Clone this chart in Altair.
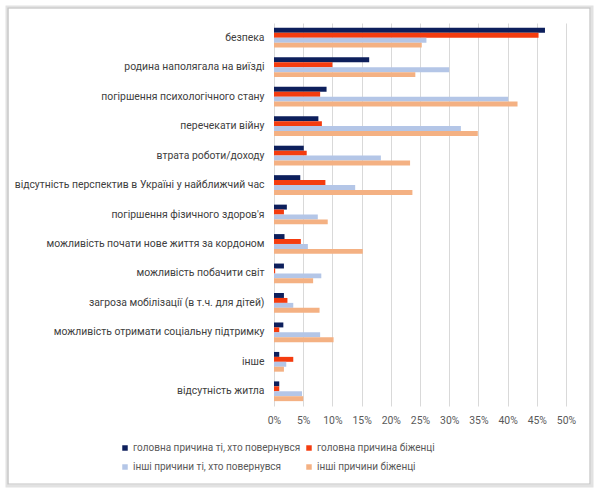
import altair as alt
import pandas as pd

categories = [
    "безпека",
    "родина наполягала на виїзді",
    "погіршення психологічного стану",
    "перечекати війну",
    "втрата роботи/доходу",
    "відсутність перспектив в Україні у найближчий час",
    "погіршення фізичного здоров'я",
    "можливість почати нове життя за кордоном",
    "можливість побачити світ",
    "загроза мобілізації (в т.ч. для дітей)",
    "можливість отримати соціальну підтримку",
    "інше",
    "відсутність житла",
]
series = [
    "головна причина ті, хто повернувся",
    "головна причина біженці",
    "інші причини ті, хто повернувся",
    "інші причини біженці",
]
main_returned = [46.4, 16.3, 9.0, 7.6, 5.1, 4.5, 2.2, 1.8, 1.7, 1.7, 1.6, 0.9, 0.9]
main_refugees = [45.3, 10.0, 7.9, 8.2, 5.6, 8.8, 1.7, 4.6, 0.2, 2.3, 0.9, 3.3, 0.9]
other_returned = [26.1, 30.0, 40.1, 32.0, 18.3, 13.9, 7.5, 5.8, 8.1, 3.3, 7.9, 2.1, 4.8]
other_refugees = [25.3, 24.2, 41.7, 34.9, 23.3, 23.7, 9.2, 15.2, 6.7, 7.8, 10.2, 1.7, 5.0]
colors = ["#0d1f5c", "#f43c0f", "#b4c6e7", "#f4b183"]
x_ticks = [0, 0.05, 0.10, 0.15, 0.20, 0.25, 0.30, 0.35, 0.40, 0.45, 0.50]

rows = []
for s, vals in zip(series, [main_returned, main_refugees, other_returned, other_refugees]):
    for c, v in zip(categories, vals):
        rows.append({"category": c, "series": s, "value": v / 100})
df = pd.DataFrame(rows)

FONT = "Roboto"
legend_order = [series[0], series[2], series[1], series[3]]

bars = alt.Chart(df).mark_bar().encode(
    y=alt.Y("category:N", sort=categories, title=None,
            scale=alt.Scale(paddingInner=0.33, paddingOuter=0.165),
            axis=alt.Axis(labelLimit=400, ticks=False, domain=False, labelPadding=10,
                          labelFontSize=10.4, labelColor="#404040", labelFont=FONT)),
    yOffset=alt.YOffset("series:N", sort=series, scale=alt.Scale(paddingInner=0, paddingOuter=0)),
    x=alt.X("value:Q", title=None,
            scale=alt.Scale(domain=[0, 0.5], nice=False),
            axis=alt.Axis(values=x_ticks, format=".0%", ticks=False, domain=False,
                          labelFlush=False, labelOverlap=False,
                          gridColor="#d9d9d9", gridWidth=1, labelPadding=9,
                          labelFontSize=10.4, labelColor="#595959", labelFont=FONT)),
    color=alt.Color("series:N", sort=series,
                    scale=alt.Scale(domain=series, range=colors),
                    legend=alt.Legend(title=None, orient="none", legendX=-154, legendY=420,
                                      columns=2, values=legend_order, symbolType="square",
                                      symbolSize=30, symbolStrokeWidth=0, labelOffset=3,
                                      columnPadding=3, rowPadding=9, labelLimit=400,
                                      labelFontSize=10, labelColor="#595959",
                                      labelFont=FONT)),
)

frame_df = pd.DataFrame({"k": [0]})
shadow = alt.Chart(frame_df).mark_rect(fillOpacity=0, stroke="#e2e2e2", strokeWidth=3).encode(
    x=alt.value(-267), x2=alt.value(318), y=alt.value(-16), y2=alt.value(463)
)
frame = alt.Chart(frame_df).mark_rect(fillOpacity=0, stroke="#c4c4c4", strokeWidth=1.2).encode(
    x=alt.value(-266), x2=alt.value(316), y=alt.value(-15), y2=alt.value(461)
)

chart = alt.layer(shadow, frame, bars).properties(
    width=292, height=383,
    autosize=alt.AutoSizeParams(type="none"),
    padding={"left": 274, "top": 23, "right": 34, "bottom": 88},
    background="white",
).configure_view(stroke=None)

chart.save("out.html", embed_options={"renderer": "svg", "actions": False})
